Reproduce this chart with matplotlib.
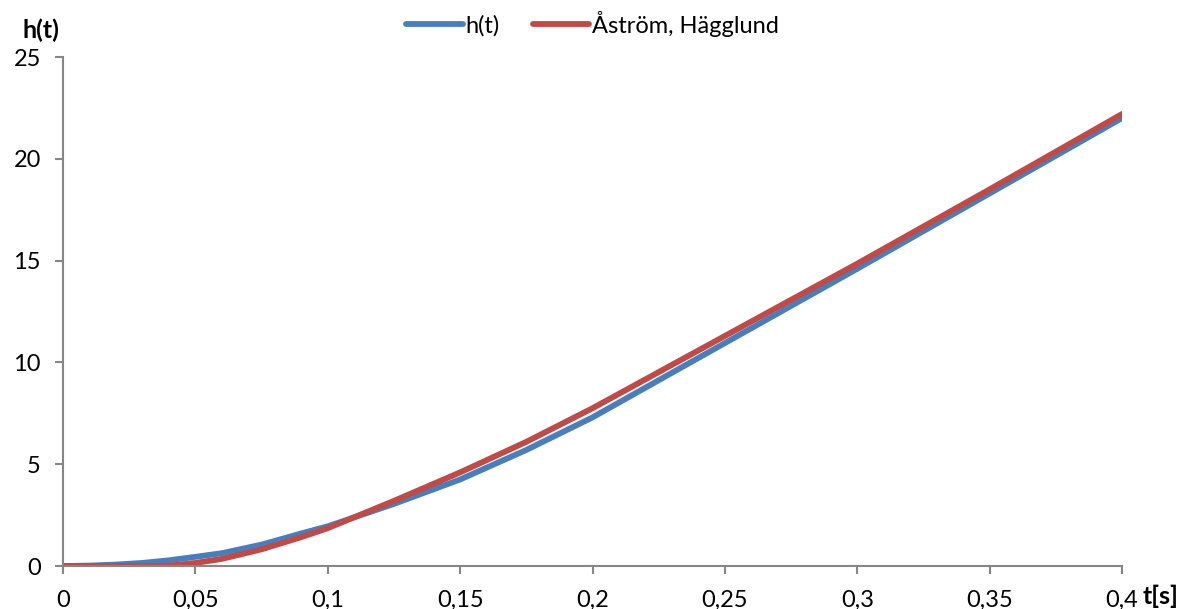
import matplotlib.pyplot as plt

# step response samples, t in seconds
t = [0, 0.01, 0.02, 0.03, 0.04, 0.05, 0.06, 0.075, 0.09, 0.1,
     0.125, 0.15, 0.175, 0.2, 0.25, 0.3, 0.35, 0.4]
h_measured = [0, 0.02, 0.07, 0.15, 0.28, 0.45, 0.63, 1.05, 1.6, 1.95,
              3.05, 4.25, 5.7, 7.3, 10.95, 14.6, 18.3, 22.0]
h_model = [0, 0, 0, 0, 0.02, 0.15, 0.35, 0.82, 1.42, 1.86,
           3.2, 4.6, 6.1, 7.75, 11.3, 14.85, 18.5, 22.2]

xticks = [0, 0.05, 0.1, 0.15, 0.2, 0.25, 0.3, 0.35, 0.4]
xticklabels = ["0", "0,05", "0,1", "0,15", "0,2", "0,25", "0,3", "0,35", "0,4"]
yticks = [0, 5, 10, 15, 20, 25]

plt.rcParams["font.family"] = ["Lato", "DejaVu Sans"]
fs = 17

fig = plt.figure(figsize=(11.92, 6.09), dpi=100)
ax = fig.add_axes([0.0529, 0.0706, 0.8884, 0.8358])

ax.plot(t, h_measured, color="#4A7EBB", lw=4.2, solid_capstyle="round", label="h(t)")
ax.plot(t, h_model, color="#BE4B48", lw=4.2, solid_capstyle="round",
        label="Åström, Hägglund")

ax.set_xlim(0, 0.4)
ax.set_ylim(0, 25)
ax.set_xticks(xticks)
ax.set_xticklabels(xticklabels)
ax.set_yticks(yticks)

for side in ["top", "right"]:
    ax.spines[side].set_visible(False)
for side in ["left", "bottom"]:
    ax.spines[side].set_color("#868686")
    ax.spines[side].set_linewidth(1.5)
    ax.spines[side].set_clip_on(False)

ax.tick_params(axis="both", direction="out", length=6, width=1.5,
               color="#868686", labelsize=fs, labelcolor="black")
ax.tick_params(axis="x", pad=11)
ax.tick_params(axis="y", pad=10)

fig.text(0.0185, 0.95, "h(t)", fontsize=18, fontweight="bold", va="center")
fig.text(0.9585, 0.02, "t[s]", fontsize=18, fontweight="bold", va="center")

ax.legend(loc="upper center", bbox_to_anchor=(0.5, 1.133), ncol=2, frameon=False,
          fontsize=fs, handlelength=2.4, handletextpad=0.1, columnspacing=1.4)

fig.savefig("out.png", dpi=100)
